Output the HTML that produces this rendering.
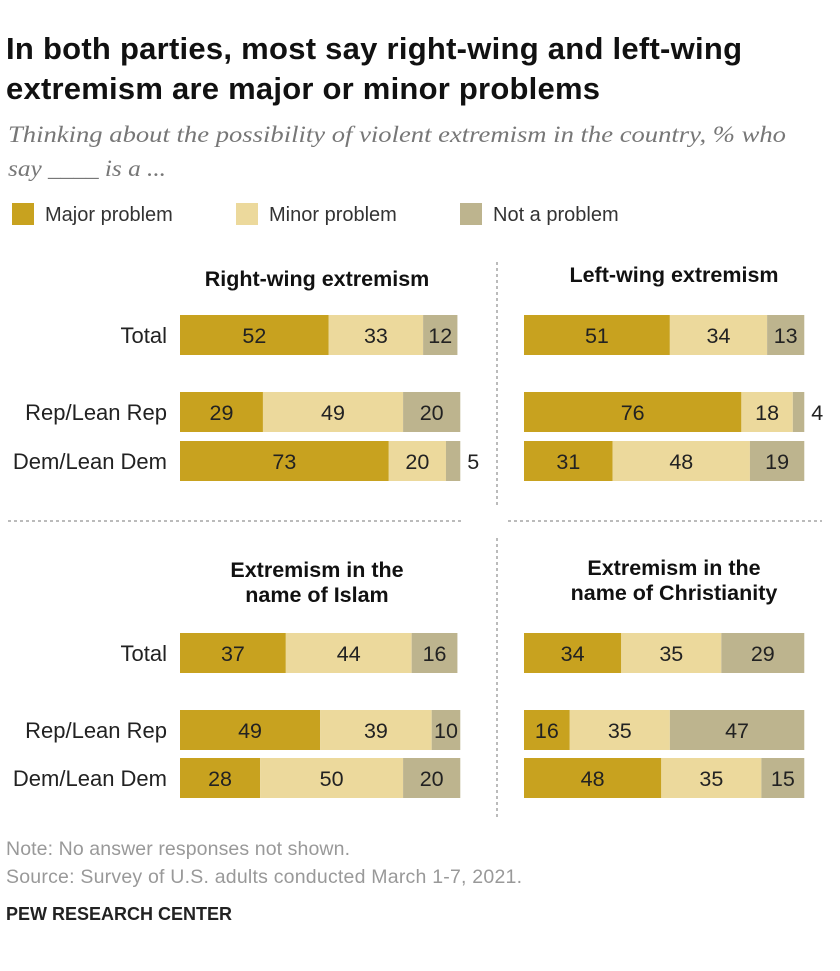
<!DOCTYPE html>
<html><head><meta charset="utf-8"><style>
body{margin:0;background:#fff;width:840px;height:966px;overflow:hidden;font-family:"Liberation Sans",sans-serif}
svg text{font-family:"Liberation Sans",sans-serif}
</style></head><body>
<svg id="chart" width="840" height="966" xmlns="http://www.w3.org/2000/svg">
<text x="6" y="59" font-size="31" font-weight="bold" fill="#111" textLength="736">In both parties, most say right-wing and left-wing</text>
<text x="6" y="99" font-size="31" font-weight="bold" fill="#111" textLength="594">extremism are major or minor problems</text>
<text x="8" y="142" font-size="23" font-style="italic" fill="#777" textLength="778" lengthAdjust="spacingAndGlyphs" style="font-family:'Liberation Serif',serif">Thinking about the possibility of violent extremism in the country, % who</text>
<text x="8" y="176" font-size="23" font-style="italic" fill="#777" textLength="158" lengthAdjust="spacingAndGlyphs" style="font-family:'Liberation Serif',serif">say ____ is a ...</text>
<g id="legend"></g>
<line x1="497" y1="262" x2="497" y2="505" stroke="#777" stroke-dasharray="3,3"/>
<line x1="497" y1="538" x2="497" y2="818" stroke="#777" stroke-dasharray="3,3"/>
<line x1="8" y1="521" x2="462" y2="521" stroke="#777" stroke-dasharray="3,3"/>
<line x1="508" y1="521" x2="822" y2="521" stroke="#777" stroke-dasharray="3,3"/>
<g id="panels"></g>
<text x="6" y="855" font-size="19.5" fill="#999" textLength="344">Note: No answer responses not shown.</text>
<text x="6" y="883" font-size="19.5" fill="#999" textLength="516">Source: Survey of U.S. adults conducted March 1-7, 2021.</text>
<text x="6" y="920" font-size="18" font-weight="bold" fill="#222">PEW RESEARCH CENTER</text>
</svg>
<script>
const categories=["Total","Rep/Lean Rep","Dem/Lean Dem"];
const seriesNames=["Major problem","Minor problem","Not a problem"];
const rightWing=[[52,33,12],[29,49,20],[73,20,5]];
const leftWing=[[51,34,13],[76,18,4],[31,48,19]];
const islam=[[37,44,16],[49,39,10],[28,50,20]];
const christianity=[[34,35,29],[16,35,47],[48,35,15]];
const colors=["#c8a21f","#ecd99c","#bdb48e"];
const NS="http://www.w3.org/2000/svg";
const svg=document.getElementById('chart');
function mk(tag,attrs,parent){const e=document.createElementNS(NS,tag);for(const k in attrs)e.setAttribute(k,attrs[k]);parent.appendChild(e);return e;}
const leg=document.getElementById('legend');
const legX=[12,236,460];
seriesNames.forEach((n,i)=>{
 const r=mk('rect',{x:legX[i],y:203,width:22,height:22,fill:colors[i]},leg);
 
 
 const t=mk('text',{x:legX[i]+33,y:221,'font-size':20,fill:'#333'},leg);
 t.textContent=n;
 
 
});
const scale=2.86;
const panels=[
 {data:rightWing,x0:180,rows:[335,412,461],title:["Right-wing extremism"],ty:[286],tx:317,labels:true},
 {data:leftWing,x0:524,rows:[335,412,461],title:["Left-wing extremism"],ty:[282],tx:674,labels:false},
 {data:islam,x0:180,rows:[653,730,778],title:["Extremism in the","name of Islam"],ty:[577,602],tx:317,labels:true},
 {data:christianity,x0:524,rows:[653,730,778],title:["Extremism in the","name of Christianity"],ty:[575,600],tx:674,labels:false}
];
const pg=document.getElementById('panels');
panels.forEach((p,pi)=>{
 const g=mk('g',{},pg);
 
 
 p.title.forEach((t,i)=>{
  const tt=mk('text',{x:p.tx,y:p.ty[i],'font-size':21.5,'font-weight':'bold','text-anchor':'middle',fill:'#111'},g);
  tt.textContent=t;
  
  
 });
 p.data.forEach((vals,ri)=>{
  const cy=p.rows[ri];
  if(p.labels){
   const l=mk('text',{x:167,y:cy+8,'font-size':22,'text-anchor':'end',fill:'#222'},g);
   l.textContent=categories[ri];
   
   
  }
  let x=p.x0;
  vals.forEach((v,si)=>{
   const w=v*scale;
   const r=mk('rect',{x:x,y:cy-20,width:w,height:40,fill:colors[si]},g);
   
   
   const outside=v<8;
   const t=mk('text',{x:outside?x+w+13:x+w/2,y:cy+8,'font-size':21.5,'text-anchor':'middle',fill:'#222'},g);
   t.textContent=v;
   
   
   x+=w;
  });
 });
});
</script>
</body></html>
